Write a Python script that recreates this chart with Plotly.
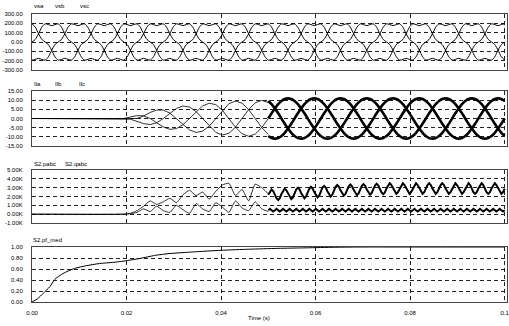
import plotly.graph_objects as go

# ---------------- data ----------------
F_HZ = 60.0                      # supply frequency
STEPS_PER_CYCLE = 24             # samples per cycle for the waveforms

X_RANGE = [0.0, 0.1005]
X_TICKS = [0.0, 0.02, 0.04, 0.06, 0.08, 0.1]
X_TICK_TEXT = ["0.00", "0.02", "0.04", "0.06", "0.08", "0.1"]

# Source voltages (one cycle, 24 samples)
VS_NAMES = ["vsa", "vsb", "vsc"]
VS_CYCLE = [0, 28, 88, 159, 195, 187, 175, 187, 195, 159, 88, 28,
            0, -28, -88, -159, -195, -187, -175, -187, -195, -159, -88, -28]
PHASE_STEPS = [0, -8, 8]         # phase offsets in 1/24 cycle

# Load currents
IL_NAMES = ["Ila", "Ilb", "Ilc"]
IL_UNIT = [0, 0.26, 0.5, 0.71, 0.87, 0.97, 1, 0.97, 0.87, 0.71, 0.5, 0.26,
           0, -0.26, -0.5, -0.71, -0.87, -0.97, -1, -0.97, -0.87, -0.71, -0.5, -0.26]
IL_RAMP_START = 28               # sample index where the current starts (~0.02 s)
IL_ENV = [0, 0.8, 1.8, 2.8, 3.8, 4.6, 5.3, 5.9, 6.3, 6.8, 7.2, 7.6,
          7.9, 8.3, 8.7, 9.0, 9.3, 9.5, 9.6, 9.7, 9.8, 9.9, 10.0]
IL_STEADY = 11.0
IL_STEADY_START = 72             # ~0.05 s

# Powers (kW / kvar)
PQ_NAMES = ["S2.pabc", "S2.qabc"]
P_RAMP = [0, 0.1, 0.4, 0.9, 1.5, 1.1, 1.4, 1.8, 1.3, 2.2, 2.7, 2.1,
          2.5, 1.7, 2.6, 3.3, 3.5, 2.1, 2.8, 1.5, 3.4, 3.0, 2.3]
Q_RAMP = [0, 0.05, 0.2, 0.6, 0.3, 0.9, 0.4, 0.2, 1.0, 0.5, 0.1, 1.2,
          0.6, 0.3, 1.3, 0.8, 0.2, 1.5, 0.7, 0.4, 1.4, 0.6, 0.3]
P_MEAN = [2.2, 2.3, 2.4, 2.5, 2.6, 2.7, 2.75, 2.8, 2.85, 2.9, 2.9, 2.9,
          2.9, 2.9, 2.9, 2.9, 2.9, 2.9, 2.9]
P_RIPPLE = [0, 0.4, 0.6, 0.4, 0, -0.4, -0.6, -0.4]
Q_MEAN = 0.45
Q_RIPPLE = [0, 0.15, 0, -0.15]

# Power factor
PF_NAME = "S2.pf_med"
PF_T = [0, 0.0012, 0.0024, 0.0038, 0.0048, 0.0066, 0.009, 0.0115, 0.0143,
        0.0171, 0.0195, 0.0227, 0.0262, 0.029, 0.034, 0.04, 0.046, 0.052,
        0.058, 0.064, 0.07, 0.08, 0.09, 0.1]
PF_V = [0, 0.06, 0.16, 0.28, 0.41, 0.52, 0.61, 0.66, 0.70, 0.72, 0.745,
        0.79, 0.85, 0.88, 0.91, 0.94, 0.96, 0.975, 0.985, 0.995, 1.0, 1.0,
        1.0, 1.0]

Y1_TICKS = [300, 200, 100, 0, -100, -200, -300]
Y1_TEXT = ["300.00", "200.00", "100.00", "0.00", "-100.00", "-200.00", "-300.00"]
Y2_TICKS = [15, 10, 5, 0, -5, -10, -15]
Y2_TEXT = ["15.00", "10.00", "5.00", "0.00", "-5.00", "-10.00", "-15.00"]
Y3_TICKS = [5, 4, 3, 2, 1, 0, -1]
Y3_TEXT = ["5.00K", "4.00K", "3.00K", "2.00K", "1.00K", "0.00K", "-1.00K"]
Y4_TICKS = [1.0, 0.8, 0.6, 0.4, 0.2, 0.0]
Y4_TEXT = ["1.00", "0.80", "0.60", "0.40", "0.20", "0.00"]

# ---------------- build traces ----------------
dt = 1.0 / (F_HZ * STEPS_PER_CYCLE)
n_total = STEPS_PER_CYCLE * 6   # 0 .. 0.1 s
fig = go.Figure()
LINE = "black"

# panel 1 : voltages
for name, sh in zip(VS_NAMES, PHASE_STEPS):
    xs = [k * dt for k in range(n_total + 1)]
    ys = [VS_CYCLE[(k + sh) % STEPS_PER_CYCLE] for k in range(n_total + 1)]
    fig.add_trace(go.Scatter(x=xs, y=ys, mode="lines", name=name,
                             line=dict(color=LINE, width=1, shape="spline", smoothing=0.6),
                             xaxis="x", yaxis="y", showlegend=False))

# panel 2 : currents
for name, sh in zip(IL_NAMES, PHASE_STEPS):
    ks = list(range(IL_RAMP_START, IL_STEADY_START + 1, 2))
    xs = [0.0] + [k * dt for k in ks]
    ys = [0.0] + [env * IL_UNIT[(k + sh) % STEPS_PER_CYCLE] for env, k in zip(IL_ENV, ks)]
    fig.add_trace(go.Scatter(x=xs, y=ys, mode="lines", name=name,
                             line=dict(color=LINE, width=0.8),
                             xaxis="x2", yaxis="y2", showlegend=False))
    ks2 = list(range(IL_STEADY_START, n_total + 1))
    fig.add_trace(go.Scatter(x=[k * dt for k in ks2],
                             y=[IL_STEADY * IL_UNIT[(k + sh) % STEPS_PER_CYCLE] for k in ks2],
                             mode="lines", name=name,
                             line=dict(color=LINE, width=2.6, shape="spline", smoothing=0.8),
                             xaxis="x2", yaxis="y2", showlegend=False))

# panel 3 : P and Q
ks = list(range(IL_RAMP_START, IL_STEADY_START + 1, 2))
for name, ramp in zip(PQ_NAMES, [P_RAMP, Q_RAMP]):
    fig.add_trace(go.Scatter(x=[0.0] + [k * dt for k in ks], y=[0.0] + ramp,
                             mode="lines", name=name,
                             line=dict(color=LINE, width=0.8, shape="spline", smoothing=0.5),
                             xaxis="x3", yaxis="y3", showlegend=False))
dt2 = dt / 2
k0 = IL_STEADY_START * 2
kk = list(range(k0, n_total * 2 + 1))
p_x = [k * dt2 for k in kk]
p_y = [P_MEAN[min((k - k0) // 8, len(P_MEAN) - 1)] + P_RIPPLE[(k - k0) % 8] for k in kk]
q_y = [Q_MEAN + Q_RIPPLE[(k - k0) % 4] for k in kk]
fig.add_trace(go.Scatter(x=p_x, y=p_y, mode="lines", name=PQ_NAMES[0],
                         line=dict(color=LINE, width=2), xaxis="x3", yaxis="y3",
                         showlegend=False))
fig.add_trace(go.Scatter(x=p_x, y=q_y, mode="lines", name=PQ_NAMES[1],
                         line=dict(color=LINE, width=2), xaxis="x3", yaxis="y3",
                         showlegend=False))

# panel 4 : power factor
fig.add_trace(go.Scatter(x=PF_T, y=PF_V, mode="lines", name=PF_NAME,
                         line=dict(color=LINE, width=1, shape="spline", smoothing=0.6),
                         xaxis="x4", yaxis="y4", showlegend=False))

# ---------------- layout ----------------
FONT = dict(family="Liberation Sans, Arial, sans-serif", size=6, color="black")
GRID = dict(showgrid=True, gridcolor="#222", gridwidth=1, griddash="4px,3px",
            zeroline=False, showline=True, linecolor="#444", linewidth=1,
            mirror=True, ticks="", tickfont=FONT, automargin=False,
            ticklabeloverflow="allow")

L_PX, R_PX = 32, 507
H_TOP, H_BOT = 0, 302            # plotting region spans the top of the page
def dom(top_px, bot_px):
    span = H_BOT - H_TOP
    return [(H_BOT - bot_px) / span, (H_BOT - top_px) / span]

panels = [
    ("y", (14, 70), [-300, 300], Y1_TICKS, Y1_TEXT),
    ("y2", (91, 146), [-15, 15], Y2_TICKS, Y2_TEXT),
    ("y3", (170, 223), [-1, 5], Y3_TICKS, Y3_TEXT),
    ("y4", (247, 302), [0, 1], Y4_TICKS, Y4_TEXT),
]
layout = dict(
    width=509, height=326,
    margin=dict(l=L_PX, r=509 - R_PX, t=H_TOP, b=326 - H_BOT, autoexpand=False),
    paper_bgcolor="white", plot_bgcolor="white",
    font=FONT, showlegend=False,
)
for i, (yname, (tp, bp), rng, tv, tt) in enumerate(panels):
    xname = "x" if i == 0 else f"x{i+1}"
    xa = dict(GRID, range=X_RANGE, tickvals=X_TICKS, ticktext=X_TICK_TEXT,
              showticklabels=(i == 3), anchor=yname, ticklabelstandoff=5)
    ya = dict(GRID, range=rng, tickvals=tv, ticktext=tt, domain=dom(tp, bp),
              anchor=xname, ticklabelstandoff=7)
    if i > 0:
        xa["matches"] = "x"
    layout["xaxis" if i == 0 else f"xaxis{i+1}"] = xa
    layout["yaxis" if i == 0 else f"yaxis{i+1}"] = ya

fig.update_layout(**layout)

def px_x(px):
    return (px - L_PX) / float(R_PX - L_PX)

def px_y(py):
    return (H_BOT - py) / float(H_BOT - H_TOP)

labels = [
    (VS_NAMES[0], 32, 6), (VS_NAMES[1], 53, 6), (VS_NAMES[2], 78, 6),
    (IL_NAMES[0], 32, 84), (IL_NAMES[1], 53, 84), (IL_NAMES[2], 77, 84),
    (PQ_NAMES[0], 32, 164), (PQ_NAMES[1], 63, 164),
    (PF_NAME, 31, 240),
]
for txt, x, y in labels:
    fig.add_annotation(text=txt, x=px_x(x), y=px_y(y), xref="paper", yref="paper",
                       xanchor="left", yanchor="middle", showarrow=False, font=FONT)
fig.add_annotation(text="Time (s)", x=px_x(259), y=px_y(318), xref="paper", yref="paper",
                   xanchor="center", yanchor="middle", showarrow=False, font=FONT)

fig.write_html("out.html", config={"displayModeBar": False},
               post_script="document.body.style.margin='0';document.body.style.overflow='hidden';")
